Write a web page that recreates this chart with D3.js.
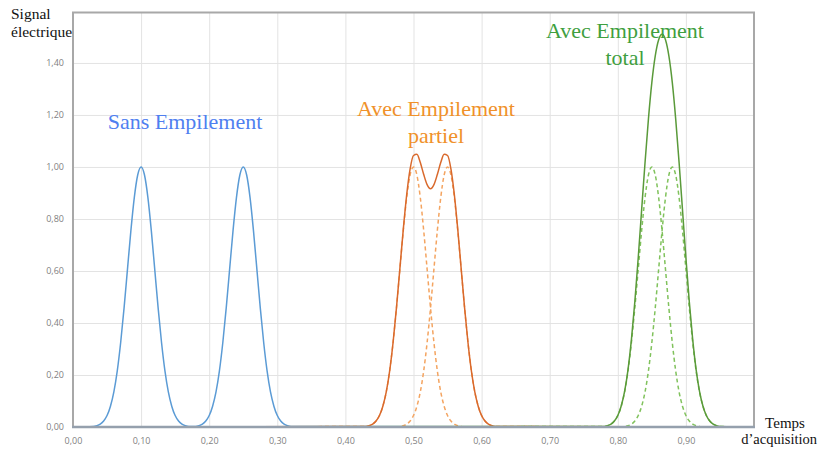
<!DOCTYPE html>
<html lang="fr">
  <head>
    <meta charset="utf-8" />
    <title>Empilement des signaux</title>
    <script src="https://cdn.jsdelivr.net/npm/d3@7"></script>
    <style>
      body { margin: 0; background: #fff; }
      .tick text { font-family: "Open Sans", sans-serif; font-size: 9px; fill: #7f7f7f; }
      .serif { font-family: "Liberation Serif", "DejaVu Serif", serif; }
    </style>
  </head>
  <body>
    <div id="root"></div>

    <script type="text/javascript">
      /************************************
       * data
       ************************************/

      const xTicks = [0, 0.1, 0.2, 0.3, 0.4, 0.5, 0.6, 0.7, 0.8, 0.9];
      const yTicks = [0, 0.2, 0.4, 0.6, 0.8, 1.0, 1.2, 1.4];

      // Sans empilement : two separate pulses
      const blueTimes = [0, 0.03, 0.035, 0.04, 0.045, 0.05, 0.055, 0.06, 0.065, 0.07, 0.075,
        0.08, 0.085, 0.09, 0.095, 0.1, 0.105, 0.11, 0.115, 0.12, 0.125, 0.13, 0.135, 0.14,
        0.145, 0.15, 0.155, 0.16, 0.165, 0.17, 0.175, 0.18, 0.185, 0.19, 0.195, 0.2, 0.205,
        0.21, 0.215, 0.22, 0.225, 0.23, 0.235, 0.24, 0.245, 0.25, 0.255, 0.26, 0.265, 0.27,
        0.275, 0.28, 0.285, 0.29, 0.295, 0.3, 0.305, 0.31, 0.315, 0.32, 1];
      const blueValues = [0, 0.002, 0.005, 0.011, 0.023, 0.044, 0.08, 0.135, 0.216, 0.325,
        0.458, 0.607, 0.755, 0.882, 0.969, 1.0, 0.969, 0.882, 0.755, 0.607, 0.458, 0.325,
        0.216, 0.135, 0.08, 0.044, 0.023, 0.011, 0.005, 0.002, 0.002, 0.002, 0.005, 0.011,
        0.023, 0.044, 0.08, 0.135, 0.216, 0.325, 0.458, 0.607, 0.755, 0.882, 0.969, 1.0,
        0.969, 0.882, 0.755, 0.607, 0.458, 0.325, 0.216, 0.135, 0.08, 0.044, 0.023, 0.011,
        0.005, 0.002, 0];

      // Avec empilement partiel
      const orangeTimes = [0, 0.43, 0.435, 0.44, 0.445, 0.45, 0.455, 0.46, 0.465, 0.47, 0.475,
        0.48, 0.485, 0.49, 0.495, 0.5, 0.505, 0.51, 0.515, 0.52, 0.525, 0.53, 0.535, 0.54,
        0.545, 0.55, 0.555, 0.56, 0.565, 0.57, 0.575, 0.58, 0.585, 0.59, 0.595, 0.6, 0.605,
        0.61, 0.615, 0.62, 1];
      const orangeSum = [0, 0.002, 0.005, 0.011, 0.023, 0.044, 0.08, 0.135, 0.216, 0.325,
        0.459, 0.609, 0.76, 0.893, 0.992, 1.044, 1.049, 1.017, 0.971, 0.932, 0.916, 0.932,
        0.971, 1.017, 1.049, 1.044, 0.992, 0.893, 0.76, 0.609, 0.459, 0.325, 0.216, 0.135,
        0.08, 0.044, 0.023, 0.011, 0.005, 0.002, 0];
      const orangeFirst = [0, 0.002, 0.005, 0.011, 0.023, 0.044, 0.08, 0.135, 0.216, 0.325,
        0.458, 0.607, 0.755, 0.882, 0.969, 1.0, 0.969, 0.882, 0.755, 0.607, 0.458, 0.325,
        0.216, 0.135, 0.08, 0.044, 0.023, 0.011, 0.005, 0.002, 0, 0, 0, 0, 0, 0, 0, 0, 0, 0, 0];
      const orangeSecond = [0, 0, 0, 0, 0, 0, 0, 0, 0, 0, 0, 0.002, 0.005, 0.011, 0.023,
        0.044, 0.08, 0.135, 0.216, 0.325, 0.458, 0.607, 0.755, 0.882, 0.969, 1.0, 0.969,
        0.882, 0.755, 0.607, 0.458, 0.325, 0.216, 0.135, 0.08, 0.044, 0.023, 0.011, 0.005,
        0.002, 0];

      // Avec empilement total
      const greenTimes = [0, 0.78, 0.785, 0.79, 0.795, 0.8, 0.805, 0.81, 0.815, 0.82, 0.825,
        0.83, 0.835, 0.84, 0.845, 0.85, 0.855, 0.86, 0.865, 0.87, 0.875, 0.88, 0.885, 0.89,
        0.895, 0.9, 0.905, 0.91, 0.915, 0.92, 0.925, 0.93, 0.935, 0.94, 0.945, 0.95, 1];
      const greenSum = [0, 0.002, 0.005, 0.011, 0.023, 0.044, 0.081, 0.137, 0.221, 0.336,
        0.481, 0.651, 0.835, 1.017, 1.185, 1.325, 1.427, 1.489, 1.51, 1.489, 1.427, 1.325,
        1.185, 1.017, 0.835, 0.651, 0.481, 0.336, 0.221, 0.137, 0.081, 0.044, 0.023, 0.011,
        0.005, 0.002, 0];
      const greenFirst = [0, 0.002, 0.005, 0.011, 0.023, 0.044, 0.08, 0.135, 0.216, 0.325,
        0.458, 0.607, 0.755, 0.882, 0.969, 1.0, 0.969, 0.882, 0.755, 0.607, 0.458, 0.325,
        0.216, 0.135, 0.08, 0.044, 0.023, 0.011, 0.005, 0.002, 0, 0, 0, 0, 0, 0, 0];
      const greenSecond = [0, 0, 0, 0, 0, 0, 0, 0.002, 0.005, 0.011, 0.023, 0.044, 0.08,
        0.135, 0.216, 0.325, 0.458, 0.607, 0.755, 0.882, 0.969, 1.0, 0.969, 0.882, 0.755,
        0.607, 0.458, 0.325, 0.216, 0.135, 0.08, 0.044, 0.023, 0.011, 0.005, 0.002, 0];

      /**********************************
       * chart
       *************************************/

      const width = 819;
      const height = 450;
      const marginTop = 12.5;
      const marginLeft = 73;
      const plotRight = 754;
      const plotBottom = 427;
      const yMax = 1.594;

      const xScale = d3.scaleLinear().domain([0, 1]).range([marginLeft, plotRight]);
      const yScale = d3.scaleLinear().domain([0, yMax]).range([plotBottom, marginTop]);

      const fr = d3.formatLocale({ decimal: ",", thousands: " ", grouping: [3], currency: ["", "€"] });
      const fmt = fr.format(".2f");

      const svg = d3.select("#root").append("svg");
      svg.attr("width", width);
      svg.attr("height", height);

      // grid + y labels
      const yAxis = svg
        .append("g")
        .attr("transform", `translate(${marginLeft},0)`)
        .call(d3.axisLeft(yScale).tickValues(yTicks).tickFormat(fmt)
          .tickSize(-(plotRight - marginLeft)).tickPadding(9));
      yAxis.select(".domain").remove();
      yAxis.selectAll(".tick line").attr("stroke", "#e3e3e3");

      // grid + x labels
      const xAxis = svg
        .append("g")
        .attr("transform", `translate(0,${plotBottom})`)
        .call(d3.axisBottom(xScale).tickValues(xTicks).tickFormat(fmt)
          .tickSize(-(plotBottom - marginTop)).tickPadding(11));
      xAxis.select(".domain").remove();
      xAxis.selectAll(".tick line").attr("stroke", "#e3e3e3");

      // curves
      const line = d3.line().curve(d3.curveMonotoneX);
      function drawSeries(times, values, color, dashed) {
        const pts = times.map((t, i) => [xScale(t), yScale(values[i])]);
        svg
          .append("path")
          .attr("d", line(pts))
          .attr("fill", "none")
          .attr("stroke", color)
          .attr("stroke-width", 1.5)
          .attr("stroke-dasharray", dashed ? "4,3" : null);
      }

      drawSeries(blueTimes, blueValues, "#5b9bd5", false);
      drawSeries(orangeTimes, orangeFirst, "#f4a460", true);
      drawSeries(orangeTimes, orangeSecond, "#f4a460", true);
      drawSeries(orangeTimes, orangeSum, "#d9692c", false);
      drawSeries(greenTimes, greenFirst, "#80c25c", true);
      drawSeries(greenTimes, greenSecond, "#80c25c", true);
      drawSeries(greenTimes, greenSum, "#5a9a3a", false);

      // frame
      svg
        .append("path")
        .attr("d", `M${marginLeft},${plotBottom}V${marginTop}H${plotRight}V${plotBottom}`)
        .attr("fill", "none")
        .attr("stroke", "#a8a8a8")
        .attr("stroke-width", 2);
      svg
        .append("line")
        .attr("x1", marginLeft - 1)
        .attr("x2", plotRight + 1)
        .attr("y1", plotBottom)
        .attr("y2", plotBottom)
        .attr("stroke", "#95a0ad")
        .attr("stroke-width", 2.5);

      // annotations
      function label(lines, x, y, color, size, lh, anchor) {
        const t = svg
          .append("text")
          .attr("class", "serif")
          .attr("x", x)
          .attr("y", y)
          .attr("fill", color)
          .attr("font-size", size)
          .attr("text-anchor", anchor);
        lines.forEach((s, i) => {
          t.append("tspan").attr("x", x).attr("dy", i === 0 ? 0 : lh).text(s);
        });
      }

      label(["Sans Empilement"], 185, 129, "#4f7ff0", 22, 0, "middle");
      label(["Avec Empilement", "partiel"], 436, 116, "#f0912a", 22, 27, "middle");
      label(["Avec Empilement", "total"], 625, 38, "#3f9f3f", 22, 27, "middle");
      label(["Signal", "électrique"], 11, 19, "#111", 15.5, 18, "start");
      label(["Temps"], 785, 428, "#111", 15, 0, "middle");
      label(["d’acquisition"], 817, 444, "#111", 14.5, 0, "end");
    </script>
  </body>
</html>
